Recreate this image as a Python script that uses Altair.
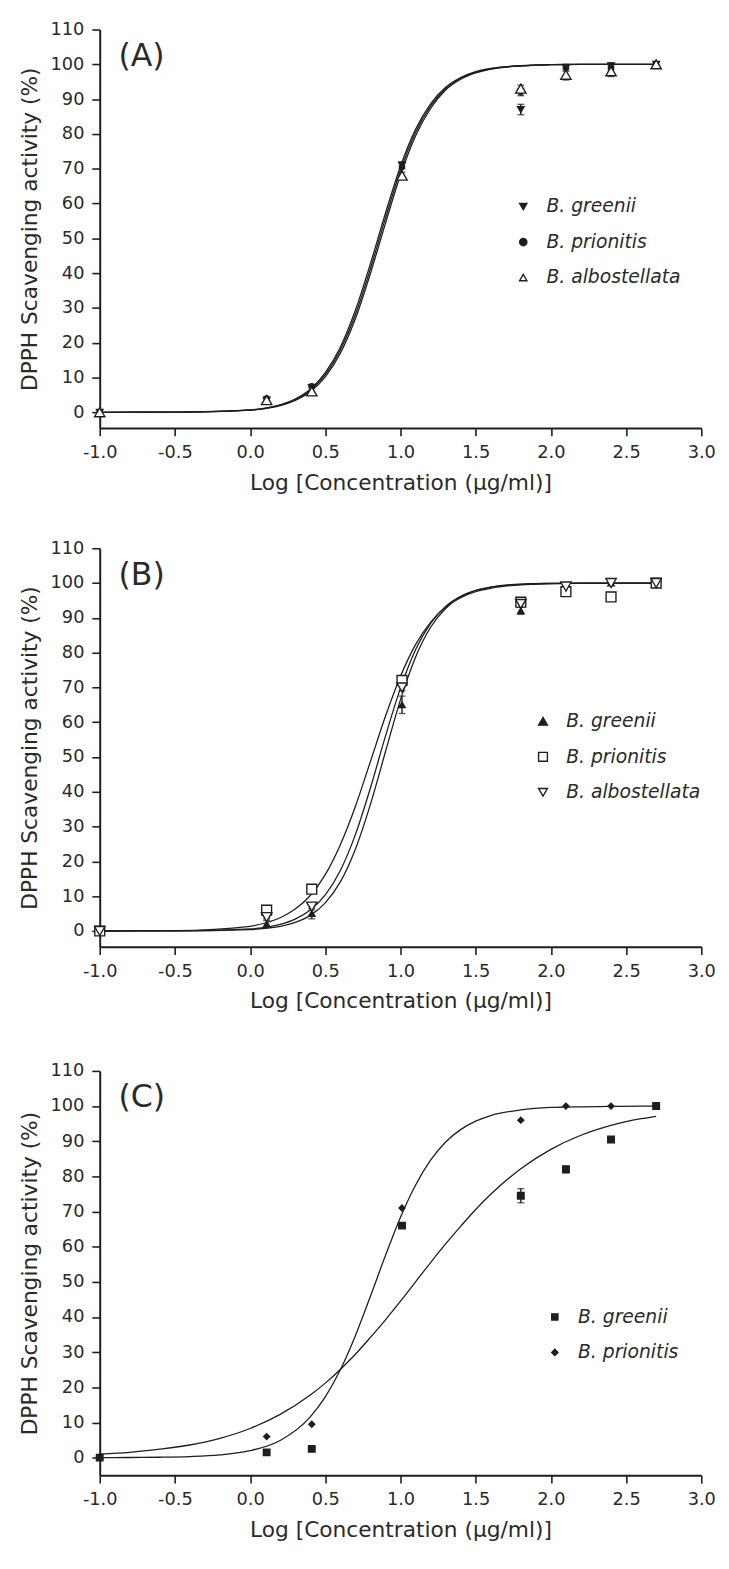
import altair as alt
import pandas as pd

# ---------------- data ----------------
DOSE_X = [-1.0, 0.11, 0.41, 1.01, 1.8, 2.1, 2.4, 2.7]

# Panel A
A_NAMES = ["B. greenii", "B. prionitis", "B. albostellata"]
A_GREENII = [0.0, 3.5, 7.0, 71.0, 87.0, 99.0, 99.5, 100.0]
A_GREENII_ERR = [0.0, 0.5, 1.0, 1.0, 1.5, 1.0, 1.0, 0.0]
A_PRIONITIS = [0.0, 4.0, 7.5, 70.5, 92.0, 99.0, 99.0, 100.0]
A_PRIONITIS_ERR = [0.0, 0.0, 0.0, 0.0, 1.0, 0.0, 0.0, 0.0]
A_ALBO = [0.0, 3.5, 6.0, 68.0, 93.0, 97.0, 98.0, 100.0]
A_ALBO_ERR = [0.0, 0.5, 1.0, 1.0, 1.0, 1.5, 1.5, 0.0]

# Panel B
B_NAMES = ["B. greenii", "B. prionitis", "B. albostellata"]
B_GREENII = [0.0, 2.0, 5.0, 65.0, 92.0, 99.0, 100.0, 100.0]
B_GREENII_ERR = [0.0, 1.0, 1.5, 2.5, 1.0, 0.5, 0.0, 0.0]
B_PRIONITIS = [0.0, 6.0, 12.0, 72.0, 94.5, 97.5, 96.0, 100.0]
B_PRIONITIS_ERR = [0.0, 0.5, 1.0, 1.0, 0.5, 0.5, 0.0, 0.0]
B_ALBO = [0.0, 4.0, 7.0, 70.0, 94.0, 99.0, 100.0, 100.0]
B_ALBO_ERR = [0.0, 0.5, 1.0, 1.0, 0.5, 0.5, 0.0, 0.0]

# Panel C
C_NAMES = ["B. greenii", "B. prionitis"]
C_GREENII = [0.0, 1.5, 2.5, 66.0, 74.5, 82.0, 90.5, 100.0]
C_GREENII_ERR = [0.0, 0.5, 0.3, 0.5, 2.0, 1.0, 0.5, 0.0]
C_PRIONITIS = [0.0, 6.0, 9.5, 71.0, 96.0, 100.0, 100.0, 100.0]
C_PRIONITIS_ERR = [0.0, 0.0, 0.0, 0.0, 0.0, 0.0, 0.0, 0.0]

# fitted curves
CURVE_X_AB = [-1.0, -0.5, 0.0, 0.1, 0.2, 0.3, 0.4, 0.5, 0.6, 0.7, 0.8, 0.9, 1.0,
              1.1, 1.2, 1.3, 1.4, 1.5, 1.6, 1.8, 2.0, 2.2, 2.7]
A_FIT_GREENII = [0.0, 0.04, 0.68, 1.21, 2.15, 3.8, 6.6, 11.4, 18.7, 29.3, 42.7, 57.2, 70.7,
                 81.3, 88.6, 93.4, 96.2, 97.9, 98.8, 99.6, 99.9, 100.0, 100.0]
A_FIT_PRIONITIS = [0.0, 0.03, 0.64, 1.14, 2.03, 3.6, 6.3, 10.8, 17.9, 28.1, 41.3, 55.8, 69.5,
                   80.4, 88.0, 93.0, 96.0, 97.7, 98.7, 99.6, 99.9, 100.0, 100.0]
A_FIT_ALBO = [0.0, 0.03, 0.6, 1.08, 1.92, 3.4, 5.9, 10.2, 17.0, 26.9, 39.9, 54.3, 68.2,
              79.4, 87.3, 92.6, 95.7, 97.5, 98.6, 99.5, 99.9, 100.0, 100.0]
B_FIT_GREENII = [0.0, 0.02, 0.39, 0.73, 1.35, 2.5, 4.5, 8.1, 14.1, 23.5, 36.4, 51.5, 66.5,
                 78.7, 87.3, 92.7, 96.0, 97.8, 98.8, 99.7, 99.9, 100.0, 100.0]
B_FIT_PRIONITIS = [0.0, 0.1, 1.35, 2.3, 3.8, 6.3, 10.2, 16.2, 24.8, 35.8, 48.7, 61.7, 73.2,
                   82.3, 88.7, 93.1, 95.8, 97.5, 98.5, 99.5, 99.8, 99.9, 100.0]
B_FIT_ALBO = [0.0, 0.03, 0.58, 1.05, 1.9, 3.4, 6.0, 10.4, 17.4, 27.7, 41.1, 56.0, 69.8,
              80.8, 88.4, 93.3, 96.2, 97.9, 98.8, 99.6, 99.9, 100.0, 100.0]

CURVE_X_C = [-1.0, -0.8, -0.6, -0.4, -0.2, 0.0, 0.2, 0.4, 0.5, 0.6, 0.7, 0.8, 0.9, 1.0,
             1.1, 1.2, 1.3, 1.4, 1.5, 1.6, 1.8, 2.0, 2.2, 2.4, 2.6, 2.7]
C_FIT_GREENII = [1.0, 1.5, 2.4, 3.6, 5.5, 8.3, 12.3, 17.8, 21.2, 25.1, 29.4, 34.2, 39.2, 44.5,
                 50.0, 55.5, 60.8, 65.8, 70.6, 74.9, 82.2, 87.7, 91.7, 94.5, 96.4, 97.1]
C_FIT_PRIONITIS = [0.02, 0.05, 0.12, 0.31, 0.79, 1.98, 4.9, 11.6, 17.3, 25.0, 34.7, 45.9, 57.5,
                   68.4, 77.5, 84.6, 89.8, 93.3, 95.7, 97.3, 98.9, 99.6, 99.8, 99.9, 100.0, 100.0]

PANEL_LABELS = ["(A)", "(B)", "(C)"]
X_TICKS = [-1.0, -0.5, 0.0, 0.5, 1.0, 1.5, 2.0, 2.5, 3.0]
Y_TICKS = [0, 10, 20, 30, 40, 50, 60, 70, 80, 90, 100, 110]
X_TITLE = "Log [Concentration (\u00b5g/ml)]"
Y_TITLE = "DPPH Scavenging activity (%)"

FONT = "DejaVu Sans"
INK = "#1e1e1e"
TXT = "#2a2a2a"

W = 610

X_SCALE = alt.Scale(domain=[-1, 3], nice=False, zero=False)
X_AXIS = alt.Axis(values=X_TICKS, labelFlush=False,
                  labelExpr="replace(format(datum.value, '.1f'), '\u2212', '-')",
                  labelPadding=8, titlePadding=11)
Y_AXIS = alt.Axis(values=Y_TICKS, labelPadding=8, titlePadding=9, labelFlush=False)


def points_frame(names, ys, errs, sizes):
    rows = []
    for n, yv, ev, s in zip(names, ys, errs, sizes):
        for x, y, e in zip(DOSE_X, yv, ev):
            rows.append({"x": x, "y": y, "lo": y - e, "hi": y + e, "err": e,
                         "series": n, "sz": s})
    return pd.DataFrame(rows)


def curve_frame(names, xs, fits):
    rows = []
    for n, fv in zip(names, fits):
        for x, y in zip(xs, fv):
            rows.append({"x": x, "y": y, "series": n})
    return pd.DataFrame(rows)


def panel(label, names, ys, errs, curve_x, fits, shapes, fills, sizes, leg_size, leg_x, leg_y,
          y_min, height):
    pts = points_frame(names, ys, errs, sizes)
    crv = curve_frame(names, curve_x, fits)
    errdf = pts[pts["err"] > 0]

    y_scale = alt.Scale(domain=[y_min, 110], nice=False, zero=False)
    X = alt.X("x:Q", scale=X_SCALE, title=X_TITLE, axis=X_AXIS)
    Y = alt.Y("y:Q", scale=y_scale, title=Y_TITLE, axis=Y_AXIS)

    lines = alt.Chart(crv).mark_line(color=INK, strokeWidth=1.3, interpolate="monotone").encode(
        x=X, y=Y, detail="series:N")

    ebars = alt.Chart(errdf).mark_errorbar(
        ticks={"size": 7, "thickness": 1.4}, color=INK, thickness=1.4).encode(
        x=X, y=alt.Y("lo:Q", scale=y_scale, title=Y_TITLE, axis=Y_AXIS), y2="hi:Q")

    leg = alt.Legend(orient="none", legendX=leg_x, legendY=leg_y, title=None,
                     labelFont=FONT, labelFontSize=19, labelFontStyle="italic",
                     labelColor=TXT, rowPadding=16, labelOffset=14,
                     symbolSize=leg_size, symbolStrokeWidth=1.4, symbolOpacity=1)
    pnt = alt.Chart(pts).mark_point(strokeWidth=1.4, opacity=1).encode(
        x=X, y=Y,
        shape=alt.Shape("series:N", scale=alt.Scale(domain=names, range=shapes), legend=leg),
        fill=alt.Fill("series:N", scale=alt.Scale(domain=names, range=fills), legend=leg),
        stroke=alt.Stroke("series:N", scale=alt.Scale(domain=names, range=[INK] * len(names)),
                          legend=leg),
        size=alt.Size("sz:Q", scale=None),
    )

    lab = alt.Chart(pd.DataFrame({"label": [label]})).mark_text(
        align="left", baseline="middle", font=FONT, fontSize=32, color=TXT).encode(
        x=alt.value(19), y=alt.value(27), text="label:N")

    return alt.layer(lines, ebars, pnt, lab).properties(width=W, height=height)


pa = panel(PANEL_LABELS[0], A_NAMES,
           [A_GREENII, A_PRIONITIS, A_ALBO], [A_GREENII_ERR, A_PRIONITIS_ERR, A_ALBO_ERR],
           CURVE_X_AB, [A_FIT_GREENII, A_FIT_PRIONITIS, A_FIT_ALBO],
           ["triangle-down", "circle", "triangle-up"], [INK, INK, "white"], [45, 28, 110], 55,
           420, 170, -4.5, 404)
pb = panel(PANEL_LABELS[1], B_NAMES,
           [B_GREENII, B_PRIONITIS, B_ALBO], [B_GREENII_ERR, B_PRIONITIS_ERR, B_ALBO_ERR],
           CURVE_X_AB, [B_FIT_GREENII, B_FIT_PRIONITIS, B_FIT_ALBO],
           ["triangle-up", "square", "triangle-down"], [INK, "white", "white"], [42, 100, 110], 80,
           440, 166, -4.5, 404)
pc = panel(PANEL_LABELS[2], C_NAMES,
           [C_GREENII, C_PRIONITIS], [C_GREENII_ERR, C_PRIONITIS_ERR],
           CURVE_X_C, [C_FIT_GREENII, C_FIT_PRIONITIS],
           ["square", "diamond"], [INK, INK], [44, 36], 40,
           452, 240, -5, 410)

RES = dict(x="independent", y="independent", shape="independent", fill="independent",
           stroke="independent")
LRES = dict(shape="independent", fill="independent", stroke="independent")

top = alt.vconcat(pa, pb, spacing=47).resolve_scale(**RES).resolve_legend(**LRES)

chart = alt.vconcat(top, pc, spacing=51).resolve_scale(**RES).resolve_legend(**LRES).properties(
    padding={"left": 10, "top": 2, "right": 5, "bottom": 0}
).configure_view(stroke=None).configure_axis(
    grid=False, domainColor=INK, domainWidth=2, tickColor=INK, tickWidth=1.6, tickSize=8,
    labelFont=FONT, labelFontSize=18, labelColor=TXT,
    titleFont=FONT, titleFontSize=22, titleFontWeight="normal", titleColor=TXT,
)

chart.save("out.html", embed_options={"renderer": "svg", "actions": False})
